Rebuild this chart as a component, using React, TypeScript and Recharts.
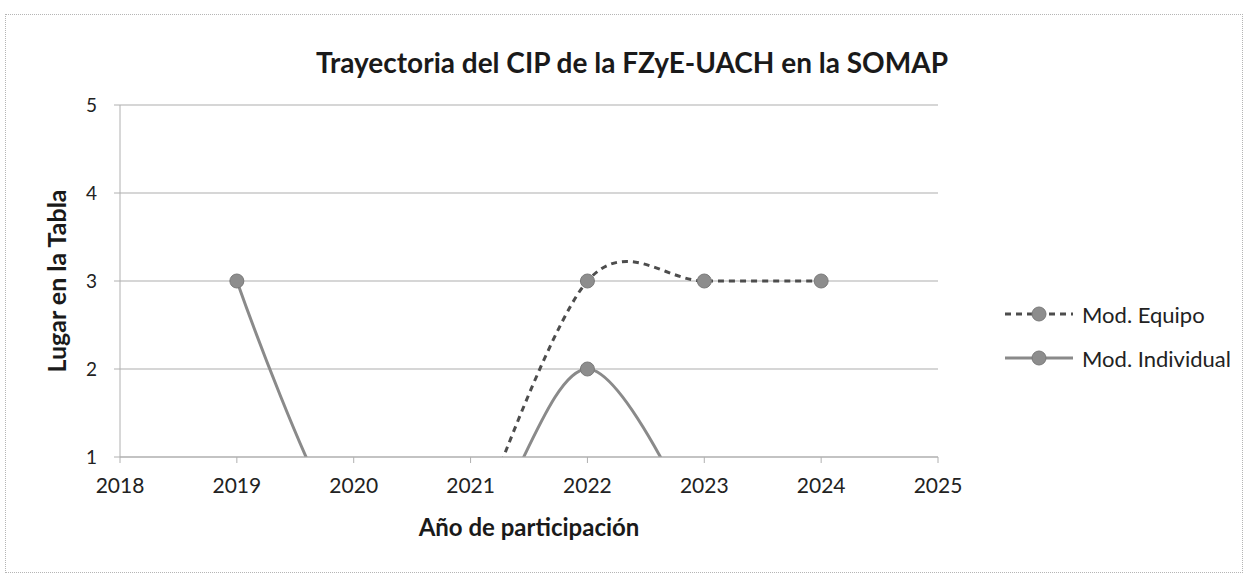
import { LineChart, Line, CartesianGrid, XAxis, YAxis, Legend } from "recharts"

const years = [2018, 2019, 2020, 2021, 2022, 2023, 2024, 2025]
// values below 1 fall out of the axis and get clipped, like in the original sheet
const equipo: (number | null)[] = [null, null, null, 0, 3, 3, 3, null]
const individual: (number | null)[] = [null, 3, 0, 0, 2, 0, null, null]
const yTicks = [1, 2, 3, 4, 5]

const data = years.map((y, i) => ({ year: y, equipo: equipo[i], individual: individual[i] }))

const FONT = "Lato, 'Open Sans', sans-serif"

// catmull-rom like smoothing (what the spreadsheet "smoothed line" looks like)
const smoothCurve = (context: any) => {
  const k = 1 / 6
  let line = 0
  let pt = 0
  let x0 = NaN, x1 = NaN, x2 = NaN, y0 = NaN, y1 = NaN, y2 = NaN
  const seg = (x: number, y: number) => {
    context.bezierCurveTo(x1 + k * (x2 - x0), y1 + k * (y2 - y0), x2 + k * (x1 - x), y2 + k * (y1 - y), x2, y2)
  }
  return {
    areaStart() { line = 0 },
    areaEnd() { line = NaN },
    lineStart() {
      x0 = x1 = x2 = y0 = y1 = y2 = NaN
      pt = 0
    },
    lineEnd() {
      if (pt === 2) context.lineTo(x2, y2)
      else if (pt === 3) seg(x1, y1)
      if (line || (line !== 0 && pt === 1)) context.closePath()
      line = 1 - line
    },
    point(x: number, y: number) {
      x = +x
      y = +y
      if (pt === 0) {
        pt = 1
        line ? context.lineTo(x, y) : context.moveTo(x, y)
      } else if (pt === 1) {
        pt = 2
        x1 = x
        y1 = y
      } else {
        pt = 3
        seg(x, y)
      }
      x0 = x1; x1 = x2; x2 = x
      y0 = y1; y1 = y2; y2 = y
    },
  }
}

const renderDot = (props: any) => {
  const { cx, cy, value, index, dataKey } = props
  if (value == null || value < 1) return <g key={`${dataKey}-${index}`} />
  return <circle key={`${dataKey}-${index}`} cx={cx} cy={cy} r={7} fill="#8d8d8d" stroke="#7a7a7a" strokeWidth={1} />
}

const LegendBox = () => (
  <div style={{ fontFamily: FONT, fontSize: 22, color: "#222" }}>
    <div style={{ display: "flex", alignItems: "center", height: 44 }}>
      <svg width={70} height={16}>
        <line x1={1} y1={8} x2={69} y2={8} stroke="#4d4d4d" strokeWidth={3} strokeDasharray="6 5" />
        <circle cx={35} cy={8} r={7} fill="#8d8d8d" stroke="#7a7a7a" />
      </svg>
      <span style={{ marginLeft: 8 }}>Mod. Equipo</span>
    </div>
    <div style={{ display: "flex", alignItems: "center", height: 44 }}>
      <svg width={70} height={16}>
        <line x1={1} y1={8} x2={69} y2={8} stroke="#8a8a8a" strokeWidth={3} />
        <circle cx={35} cy={8} r={7} fill="#8d8d8d" stroke="#7a7a7a" />
      </svg>
      <span style={{ marginLeft: 8 }}>Mod. Individual</span>
    </div>
  </div>
)

const App = () => {
  return (
    <div style={{ position: "absolute", left: 0, top: 0, width: 1248, height: 578, background: "#fff" }}>
      <div
        style={{
          position: "absolute",
          left: 5,
          top: 14,
          width: 1236,
          height: 557,
          border: "1px dotted #b5b5b5",
        }}
      />
      <div
        style={{
          position: "absolute",
          left: 232,
          width: 800,
          top: 43,
          textAlign: "center",
          fontFamily: FONT,
          fontWeight: 700,
          fontSize: 28,
          color: "#1a1a1a",
          lineHeight: "38px",
        }}
      >
        Trayectoria del CIP de la FZyE-UACH en la SOMAP
      </div>
      <LineChart width={1248} height={578} data={data} margin={{ top: 105, right: 310, bottom: 91, left: 35 }}>
        <CartesianGrid vertical={false} stroke="#c9c9c9" strokeWidth={1.5} />
        <XAxis
          dataKey="year"
          type="number"
          domain={[2018, 2025]}
          ticks={years}
          allowDataOverflow
          height={30}
          stroke="#b0b0b0"
          tickSize={6}
          tickMargin={15}
          tick={{ fontFamily: FONT, fontSize: 21, fill: "#222" }}
          label={{
            value: "Año de participación",
            position: "bottom",
            offset: 32,
            style: { fontFamily: FONT, fontWeight: 700, fontSize: 24, fill: "#1a1a1a" },
          }}
        />
        <YAxis
          type="number"
          domain={[1, 5]}
          ticks={yTicks}
          allowDataOverflow
          width={85}
          stroke="#b0b0b0"
          tickSize={6}
          tickMargin={17}
          tick={{ fontFamily: FONT, fontSize: 19, fill: "#222" }}
          label={{
            value: "Lugar en la Tabla",
            angle: -90,
            position: "insideLeft",
            offset: 22,
            style: { textAnchor: "middle", fontFamily: FONT, fontWeight: 700, fontSize: 25, fill: "#1a1a1a" },
          }}
        />
        <Legend
          layout="vertical"
          align="center"
          verticalAlign="middle"
          wrapperStyle={{ left: 1004, top: 292, width: 244 }}
          content={() => <LegendBox />}
        />
        <Line
          dataKey="individual"
          name="Mod. Individual"
          type={smoothCurve as any}
          stroke="#8a8a8a"
          strokeWidth={3}
          dot={renderDot}
          activeDot={false}
          isAnimationActive={false}
        />
        <Line
          dataKey="equipo"
          name="Mod. Equipo"
          type={smoothCurve as any}
          stroke="#4d4d4d"
          strokeWidth={3}
          strokeDasharray="6 5"
          dot={renderDot}
          activeDot={false}
          isAnimationActive={false}
        />
      </LineChart>
    </div>
  )
}

export default App
